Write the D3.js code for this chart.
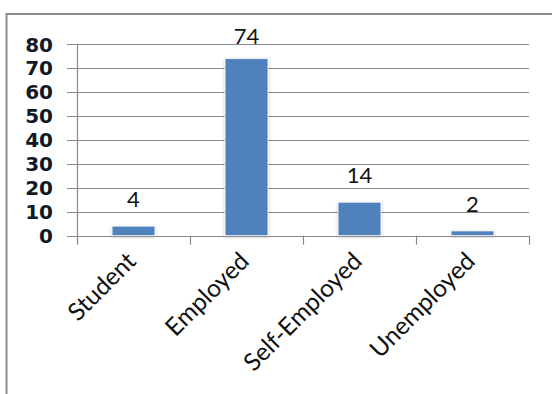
<!DOCTYPE html>
<html>
<head>
<meta charset="utf-8">
<script src="https://cdn.jsdelivr.net/npm/d3@7"></script>
<style>
  html, body { margin: 0; padding: 0; background: #fff; }
  svg { display: block; }
</style>
</head>
<body>
<div id="chart"></div>
<script>
// data
const categories = ["Student", "Employed", "Self-Employed", "Unemployed"];
const counts = [4, 74, 14, 2];
const yTicks = [0, 10, 20, 30, 40, 50, 60, 70, 80];

const width = 552, height = 394;
const plot = { left: 77, right: 529, top: 44.3, bottom: 235.7 };
const font = "Lato, 'Open Sans', sans-serif";

const svg = d3.select("#chart").append("svg")
    .attr("width", width)
    .attr("height", height);

const defs = svg.append("defs");
const shadow = defs.append("filter").attr("id", "shadow")
    .attr("x", "-30%").attr("y", "-30%").attr("width", "160%").attr("height", "160%");
shadow.append("feDropShadow")
    .attr("dx", 0).attr("dy", 1)
    .attr("stdDeviation", 1.6)
    .attr("flood-color", "#000")
    .attr("flood-opacity", 0.28);

// outer frame
svg.append("rect")
    .attr("x", 6.5).attr("y", 14)
    .attr("width", width + 10).attr("height", height + 10)
    .attr("fill", "none")
    .attr("stroke", "#8c8c8c")
    .attr("stroke-width", 2);

const x = d3.scaleBand()
    .domain(categories)
    .range([plot.left, plot.right])
    .paddingInner(0.62)
    .paddingOuter(0.31);

const y = d3.scaleLinear()
    .domain([0, 80])
    .range([plot.bottom, plot.top]);

// gridlines + y ticks
svg.append("g")
    .selectAll("line")
    .data(yTicks)
    .join("line")
    .attr("x1", plot.left - 10)
    .attr("x2", plot.right)
    .attr("y1", d => Math.round(y(d)) + 0.5)
    .attr("y2", d => Math.round(y(d)) + 0.5)
    .attr("stroke", "#8a8a8a")
    .attr("stroke-width", 1.2);

svg.append("g")
    .selectAll("text")
    .data(yTicks)
    .join("text")
    .attr("x", 53)
    .attr("y", d => y(d))
    .attr("dy", "0.36em")
    .attr("text-anchor", "end")
    .attr("font-family", "'DejaVu Sans', sans-serif")
    .attr("font-weight", "bold")
    .attr("font-size", 20)
    .attr("fill", "#111827")
    .text(d => d);

// y axis line
svg.append("line")
    .attr("x1", plot.left + 0.5).attr("x2", plot.left + 0.5)
    .attr("y1", plot.top).attr("y2", plot.bottom + 9)
    .attr("stroke", "#8a8a8a")
    .attr("stroke-width", 1.2);

// category tick marks between bands
const step = x.step();
const catTicks = categories.map(c => x(c) - (step - x.bandwidth()) / 2).concat([plot.right]);
svg.append("g")
    .selectAll("line")
    .data(catTicks.slice(1))
    .join("line")
    .attr("x1", d => Math.round(d) + 0.5)
    .attr("x2", d => Math.round(d) + 0.5)
    .attr("y1", plot.bottom)
    .attr("y2", plot.bottom + 9)
    .attr("stroke", "#8a8a8a")
    .attr("stroke-width", 1.2);

// bars
svg.append("g")
    .selectAll("rect")
    .data(counts)
    .join("rect")
    .attr("x", (d, i) => x(categories[i]))
    .attr("y", d => y(d))
    .attr("width", x.bandwidth())
    .attr("height", d => y(0) - y(d))
    .attr("fill", "#4f81bd")
    .attr("stroke", "#fff")
    .attr("stroke-width", 0.8)
    .attr("filter", "url(#shadow)");

// data labels
svg.append("g")
    .selectAll("text")
    .data(counts)
    .join("text")
    .attr("x", (d, i) => x(categories[i]) + x.bandwidth() / 2)
    .attr("y", d => Math.max(y(d) - 19, plot.top))
    .attr("text-anchor", "middle")
    .attr("font-family", font)
    .attr("font-size", 22)
    .attr("fill", "#111")
    .text(d => d);

// category labels, rotated
svg.append("g")
    .selectAll("text")
    .data(categories)
    .join("text")
    .attr("transform", c => `translate(${x(c) + x.bandwidth() / 2 + 4},${plot.bottom + 27}) rotate(-45)`)
    .attr("text-anchor", "end")
    .attr("font-family", font)
    .attr("font-size", 24.5)
    .attr("fill", "#111")
    .text(c => c);
</script>
</body>
</html>
